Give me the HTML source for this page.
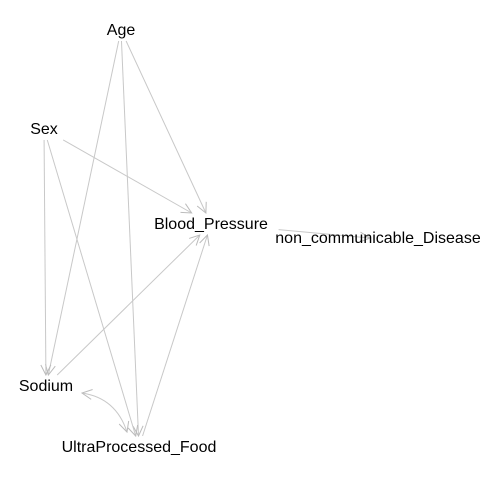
<!DOCTYPE html>
<html><head><meta charset="utf-8"><style>
body{margin:0;background:#fff}
svg{display:block}
text{font-family:"Liberation Sans",sans-serif;font-size:16px;fill:#000}
</style></head><body>
<svg width="480" height="480" viewBox="0 0 480 480">
<defs>
<marker id="ah" viewBox="0 0 12 12" refX="11" refY="6" markerWidth="12" markerHeight="12" markerUnits="userSpaceOnUse" orient="auto-start-reverse">
<path d="M1,1 L11,6 L1,11" fill="none" stroke="#bbb" stroke-width="1"/>
</marker>
</defs>
<g id="edges" stroke="#c8c8c8" stroke-width="1" fill="none"></g>
<g id="nodes"></g>
</svg>
<script>
const nodeNames=["Age","Sex","Blood_Pressure","non_communicable_Disease","Sodium","UltraProcessed_Food"];
const nodeX=[121,44,211,378,46,139];
const nodeY=[30,129,224,238,386,447];
const edgeFrom=["Age","Age","Age","Sex","Sex","Sex","Sodium","UltraProcessed_Food","Blood_Pressure"];
const edgeTo=["Blood_Pressure","Sodium","UltraProcessed_Food","Blood_Pressure","Sodium","UltraProcessed_Food","Blood_Pressure","Blood_Pressure","non_communicable_Disease"];
const ns="http://www.w3.org/2000/svg";
const eg=document.getElementById('edges'),ng=document.getElementById('nodes');
function pos(n){const i=nodeNames.indexOf(n);return [nodeX[i],nodeY[i]];}
function trim(a,b,n){
  const w=n.length*4.4+6,h=11;
  const dx=b[0]-a[0],dy=b[1]-a[1];
  const t=Math.min(Math.abs(dx)>0?w/Math.abs(dx):1e9,Math.abs(dy)>0?h/Math.abs(dy):1e9);
  return [a[0]+dx*t,a[1]+dy*t];
}
edgeFrom.forEach((f,i)=>{
  const a=pos(f),b=pos(edgeTo[i]);
  const s=trim(a,b,f);
  let e=trim(b,a,edgeTo[i]);
  if(edgeTo[i]==="non_communicable_Disease"){e=[b[0]-8,b[1]];}
  const l=document.createElementNS(ns,'line');
  l.setAttribute('x1',s[0]);l.setAttribute('y1',s[1]);l.setAttribute('x2',e[0]);l.setAttribute('y2',e[1]);
  l.setAttribute('marker-end','url(#ah)');
  
  
  eg.appendChild(l);
});
{
  const a=pos("Sodium"),b=pos("UltraProcessed_Food");
  const p=document.createElementNS(ns,'path');
  p.setAttribute('d',`M${a[0]+36},${a[1]+7} Q${a[0]+70},${a[1]+12} ${b[0]-12},${b[1]-15}`);
  p.setAttribute('marker-start','url(#ah)');p.setAttribute('marker-end','url(#ah)');
  
  
  eg.appendChild(p);
}
nodeNames.forEach((n,i)=>{
  const t=document.createElementNS(ns,'text');
  t.setAttribute('x',nodeX[i]);t.setAttribute('y',nodeY[i]+5);
  t.setAttribute('text-anchor','middle');
  t.textContent=n;
  
  
  ng.appendChild(t);
});
</script>
</body></html>
